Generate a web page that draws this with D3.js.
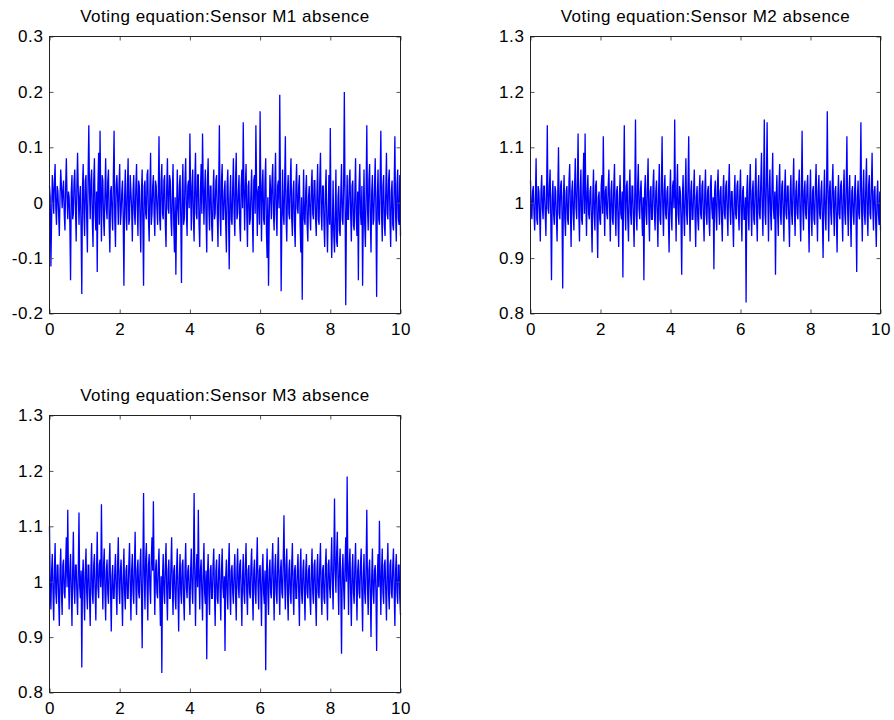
<!DOCTYPE html>
<html>
<head>
<meta charset="utf-8">
<script src="https://cdn.jsdelivr.net/npm/d3@7"></script>
<style>
  html, body { margin: 0; padding: 0; background: #fff; }
  svg { display: block; }
  text { font-family: "Liberation Sans", Arial, Helvetica, sans-serif; fill: #000; }
</style>
</head>
<body>
<svg id="chart" width="894" height="720"></svg>
<script>
// ---------------- data ----------------
const titles = [
  "Voting equation:Sensor M1 absence",
  "Voting equation:Sensor M2 absence",
  "Voting equation:Sensor M3 absence"
];
const xTicks = [0, 2, 4, 6, 8, 10];
const xTickLabels = ["0", "2", "4", "6", "8", "10"];
const yTicks1 = [-0.2, -0.1, 0, 0.1, 0.2, 0.3];
const yTickLabels1 = ["-0.2", "-0.1", "0", "0.1", "0.2", "0.3"];
const yTicks23 = [0.8, 0.9, 1.0, 1.1, 1.2, 1.3];
const yTickLabels23 = ["0.8", "0.9", "1", "1.1", "1.2", "1.3"];
const timeStep = 0.02; // seconds between samples, t = 0 .. 10

const m1Absence = [
  0.03,0.01,-0.115,-0.03,0.05,0.02,-0.02,0.04,0.07,-0.01,-0.04,0.03,0.02,-0.02,-0.06,0.01,0.06,0.03,-0.01,0.02,
  0.04,-0.02,-0.05,0.03,0.08,0.01,-0.03,0.02,0.01,-0.04,-0.14,0.02,0.05,-0.03,-0.02,0.04,0.06,-0.01,-0.07,0.03,
  0.09,0.02,-0.04,0.01,0.03,-0.05,-0.165,0.03,0.07,-0.02,-0.06,0.04,0.05,-0.03,-0.09,0.05,0.14,0.02,-0.03,0.04,
  0.06,-0.03,-0.08,0.04,0.08,-0.02,-0.05,0.02,-0.125,0.03,0.09,-0.04,0.13,0.01,-0.07,0.05,0.04,-0.03,-0.06,0.02,
  0.08,-0.01,-0.03,0.04,0.06,-0.04,-0.09,0.02,0.03,-0.02,-0.05,0.05,0.13,-0.03,-0.08,0.03,0.05,0.01,-0.04,0.03,
  0.07,-0.04,-0.02,0.02,0.04,-0.03,-0.15,0.01,0.06,-0.02,-0.05,0.03,0.08,-0.04,-0.03,0.05,0.02,-0.01,-0.07,0.02,
  0.05,-0.02,-0.04,0.03,0.07,-0.01,-0.06,0.04,0.03,-0.03,-0.09,0.02,0.06,-0.04,-0.15,0.03,0.04,-0.02,-0.03,0.05,
  0.06,-0.03,-0.07,0.02,0.09,-0.04,-0.02,0.03,0.05,-0.02,-0.06,0.04,0.03,-0.01,-0.04,0.02,0.12,-0.03,-0.05,0.04,
  0.07,-0.02,-0.03,0.04,0.05,-0.04,-0.08,0.03,0.08,-0.01,-0.02,0.05,0.04,-0.03,-0.06,0.02,0.07,-0.04,-0.09,0.01,
  -0.13,-0.02,0.06,-0.01,-0.04,0.03,0.05,-0.03,-0.145,0.02,0.07,-0.04,-0.03,0.04,0.08,-0.02,-0.06,0.03,0.04,-0.01,
  0.125,0.02,-0.05,0.03,0.06,-0.03,-0.07,0.04,0.09,-0.02,-0.03,0.05,0.05,-0.04,-0.08,0.02,0.07,-0.02,0.125,0.03,
  -0.04,0.02,0.06,-0.03,-0.09,0.04,0.08,-0.01,-0.05,0.03,0.03,-0.04,-0.07,0.02,0.06,-0.03,-0.02,0.04,0.05,-0.02,
  -0.08,0.03,0.14,-0.02,-0.06,0.04,0.07,-0.03,-0.03,0.02,0.04,-0.04,-0.09,0.03,0.06,-0.02,-0.12,0.01,0.05,-0.03,
  -0.04,0.03,0.08,-0.02,-0.06,0.04,0.09,-0.03,-0.02,0.02,0.05,-0.04,-0.07,0.03,0.06,-0.01,0.145,0.02,-0.05,0.03,
  0.07,-0.02,-0.08,0.03,0.04,-0.04,-0.03,0.02,0.06,-0.03,-0.09,0.04,0.05,-0.02,0.14,0.03,-0.06,0.02,0.03,-0.04,
  0.165,0.02,-0.07,0.03,0.06,-0.03,-0.04,0.04,0.08,-0.05,-0.1,0.01,-0.15,-0.03,0.05,0.02,-0.03,0.04,0.07,-0.02,
  -0.05,0.03,0.09,-0.02,-0.06,0.03,0.04,-0.01,0.195,0.02,-0.16,-0.03,0.06,-0.02,-0.04,0.04,0.12,-0.03,-0.07,0.02,
  0.05,-0.02,-0.03,0.04,0.08,-0.03,-0.06,0.02,0.04,-0.04,-0.08,0.03,0.07,-0.01,-0.02,0.03,0.05,-0.04,-0.09,0.01,
  -0.175,-0.02,0.06,-0.03,-0.04,0.02,0.05,-0.04,-0.07,0.01,0.03,-0.02,-0.05,0.03,0.06,-0.02,-0.03,0.04,0.04,-0.03,
  -0.06,0.02,0.07,-0.03,-0.04,0.04,0.09,-0.02,-0.05,0.03,0.03,-0.04,-0.08,0.02,0.06,-0.03,-0.09,-0.02,0.05,-0.04,
  0.135,-0.03,-0.1,-0.04,0.04,-0.06,-0.09,-0.02,0.06,-0.07,-0.08,0.01,0.03,-0.05,-0.06,0.02,0.07,-0.03,-0.04,0.03,
  0.2,0.01,-0.185,-0.02,0.05,-0.03,-0.03,0.04,0.06,-0.02,-0.07,0.03,0.04,-0.04,-0.05,0.02,0.08,-0.03,-0.06,0.02,
  -0.14,0.03,0.07,-0.02,-0.04,0.03,-0.15,-0.03,0.06,-0.04,-0.08,0.02,0.14,-0.01,-0.05,0.04,0.07,-0.03,-0.09,0.02,
  0.05,-0.04,-0.03,0.03,0.08,-0.02,-0.17,0.01,0.06,-0.03,-0.04,0.04,0.13,-0.02,-0.07,0.03,0.05,-0.04,-0.06,0.02,
  0.09,-0.02,-0.03,0.04,0.06,-0.03,-0.08,0.02,0.04,-0.04,-0.05,0.03,0.12,-0.02,-0.07,0.03,0.06,-0.03,-0.04,0.05,
  -0.06
];

const m2Absence = [
  1.04,0.99,0.97,1.02,1.03,0.98,0.95,1.01,1.08,0.97,0.96,1.03,1.02,0.98,0.93,1.02,1.05,0.99,0.97,1.03,
  1.03,0.98,0.94,1.02,1.14,0.99,0.98,1.03,1.06,0.97,0.86,1.01,1.04,0.98,0.96,1.03,1.02,0.97,0.93,1.02,
  1.10,0.98,0.97,1.03,1.04,0.98,0.845,1.01,1.05,0.97,0.94,1.02,1.03,0.97,0.96,1.04,1.07,0.99,0.92,1.02,
  1.04,0.98,0.95,1.03,1.08,0.99,0.97,1.04,1.125,0.98,0.93,1.02,1.06,0.97,0.96,1.03,1.09,0.98,1.125,1.01,
  0.94,1.02,1.05,0.98,0.97,1.02,1.03,0.97,0.91,1.01,1.06,0.98,0.95,1.03,1.04,0.97,0.90,1.01,1.02,0.97,
  0.96,1.03,1.05,0.98,1.12,1.01,0.94,1.02,1.03,0.98,0.97,1.03,1.06,0.99,0.93,1.02,1.04,0.97,0.96,1.03,
  1.07,0.98,0.94,1.02,1.03,0.97,0.92,1.01,1.05,0.98,0.97,1.02,0.865,1.03,1.14,0.99,0.95,1.03,1.04,0.97,
  0.93,1.02,1.06,0.98,0.96,1.03,1.03,0.97,0.92,1.02,1.15,0.98,0.95,1.03,1.07,0.99,0.97,1.02,1.04,0.98,
  0.94,1.01,0.86,1.02,1.05,0.98,0.96,1.03,1.08,0.98,0.93,1.02,1.03,0.97,0.97,1.03,1.06,0.98,0.95,1.02,
  1.04,0.98,0.92,1.02,1.07,0.97,0.96,1.03,1.12,0.99,0.94,1.02,1.05,0.98,0.97,1.02,1.03,0.97,0.91,1.01,
  1.06,0.98,0.95,1.03,1.04,0.99,1.15,1.01,0.93,1.02,1.07,0.98,0.96,1.03,1.02,0.97,0.87,1.01,1.05,0.98,
  0.94,1.02,1.08,0.98,0.96,1.03,1.12,0.99,0.93,1.02,1.04,0.97,0.97,1.02,1.06,0.98,0.92,1.01,1.03,0.97,
  0.95,1.02,1.05,0.98,0.97,1.03,1.04,0.97,0.93,1.02,1.06,0.98,0.96,1.02,1.03,0.97,0.94,1.03,1.05,0.99,
  0.97,1.01,0.88,1.02,1.04,0.98,0.95,1.03,1.06,0.99,0.96,1.02,1.03,0.97,0.93,1.02,1.05,0.98,0.97,1.03,
  1.04,0.98,0.94,1.03,1.07,0.99,0.96,1.02,1.02,0.97,0.92,1.01,1.05,0.98,0.97,1.03,1.04,0.98,0.95,1.02,
  1.06,0.98,0.93,1.02,1.03,0.97,0.97,1.01,0.82,1.02,1.05,0.98,0.95,1.03,1.07,0.99,0.94,1.02,1.04,0.97,
  0.96,1.03,1.08,0.98,0.93,1.02,1.05,0.98,0.97,1.04,1.09,0.99,0.94,1.03,1.15,0.98,0.96,1.04,1.145,1.01,
  0.93,1.02,1.06,0.98,0.95,1.03,1.09,0.99,0.97,1.02,0.87,1.01,1.05,0.98,0.94,1.03,1.07,0.98,0.96,1.03,
  1.04,0.98,0.93,1.02,1.06,0.98,0.97,1.03,1.03,0.97,0.92,1.02,1.05,0.98,0.96,1.03,1.08,0.99,0.94,1.02,
  1.04,0.98,0.97,1.03,1.06,0.98,0.93,1.02,1.13,0.99,0.95,1.02,1.04,0.98,0.97,1.03,1.05,0.98,0.91,1.01,
  1.06,0.98,0.94,1.02,1.03,0.97,0.96,1.03,1.07,0.99,0.93,1.02,1.05,0.98,0.97,1.02,1.04,0.97,0.90,1.01,
  1.06,0.98,0.95,1.03,1.165,1.01,0.93,1.02,1.04,0.98,0.96,1.03,1.07,0.99,0.94,1.02,1.03,0.97,0.91,1.01,
  1.05,0.98,0.97,1.03,1.04,0.98,0.93,1.02,1.06,0.98,0.96,1.03,1.12,0.99,0.94,1.02,1.05,0.98,0.92,1.02,
  1.03,0.98,0.96,1.02,1.05,0.98,0.875,1.01,1.04,0.98,0.97,1.03,1.145,0.99,0.93,1.02,1.06,0.98,0.96,1.03,
  1.08,0.98,0.94,1.03,1.05,0.98,0.97,1.03,1.09,0.99,0.95,1.02,1.03,0.97,0.92,1.01,1.04,0.98,0.96,1.02,
  0.95
];

const m3Absence = [
  1.10,0.99,0.95,1.02,1.05,0.98,0.93,1.02,1.07,0.98,0.96,1.03,1.03,0.97,0.92,1.02,1.06,0.98,0.94,1.03,
  1.04,0.98,0.97,1.03,1.08,0.99,1.13,1.01,0.95,1.02,1.05,0.98,0.92,1.02,1.09,0.99,0.96,1.03,1.03,0.98,
  0.94,1.02,1.125,0.99,0.97,1.02,0.845,1.01,1.04,0.98,0.93,1.02,1.06,0.98,0.95,1.03,1.03,0.97,0.92,1.02,
  1.07,0.98,0.96,1.03,1.05,0.98,0.93,1.02,1.09,0.99,0.97,1.03,1.04,0.99,1.14,1.01,0.95,1.03,1.06,0.98,
  0.93,1.02,1.04,0.98,0.96,1.03,1.07,0.98,0.91,1.01,1.03,0.97,0.97,1.02,1.05,0.98,0.94,1.03,1.08,0.99,
  0.96,1.02,1.04,0.98,0.92,1.01,1.06,0.98,0.95,1.02,1.03,0.97,0.97,1.03,1.07,0.99,0.93,1.02,1.05,0.98,
  0.96,1.03,1.09,0.99,0.94,1.02,1.04,0.98,0.97,1.03,1.06,0.98,0.88,1.02,1.16,1.01,0.95,1.04,1.07,0.99,
  0.93,1.03,1.05,0.99,0.96,1.04,1.08,1.02,1.145,1.01,0.94,1.02,1.04,0.98,0.97,1.03,1.06,0.98,0.92,1.01,
  0.835,1.01,1.05,0.98,0.96,1.03,1.07,0.98,0.93,1.02,1.04,0.97,0.97,1.03,1.08,0.99,0.94,1.02,1.03,0.97,
  0.95,1.02,1.06,0.98,0.91,1.01,1.05,0.98,0.96,1.03,1.04,0.97,0.93,1.02,1.07,0.99,0.97,1.02,1.03,0.98,
  0.94,1.02,1.06,0.99,0.96,1.03,1.16,1.01,0.92,1.02,1.05,0.99,1.13,1.01,0.95,1.02,1.04,0.98,0.93,1.02,
  1.07,0.98,0.96,1.02,0.86,1.01,1.05,0.98,0.94,1.02,1.03,0.97,0.97,1.03,1.06,0.98,0.92,1.02,1.04,0.97,
  0.96,1.02,1.05,0.98,0.93,1.02,1.06,0.99,0.97,1.01,0.875,1.01,1.04,0.98,0.95,1.03,1.07,0.98,0.94,1.02,
  1.03,0.98,0.96,1.02,1.05,0.98,0.93,1.02,1.06,0.99,0.97,1.03,1.04,0.98,0.92,1.01,1.05,0.98,0.96,1.03,
  1.07,0.98,0.94,1.02,1.03,0.98,0.97,1.03,1.06,0.98,0.93,1.02,1.04,0.98,0.96,1.03,1.08,0.99,0.95,1.02,
  1.03,0.98,0.92,1.02,1.05,0.98,0.96,1.02,0.84,1.01,1.06,0.98,0.94,1.02,1.04,0.98,0.97,1.03,1.07,0.99,
  0.93,1.02,1.05,0.98,0.96,1.03,1.08,0.99,0.94,1.02,1.04,0.98,0.97,1.04,1.12,1.00,0.95,1.03,1.06,0.98,
  0.93,1.02,1.04,0.98,0.96,1.03,1.07,0.98,0.94,1.02,1.03,0.97,0.97,1.02,1.05,0.98,0.92,1.02,1.06,0.98,
  0.96,1.02,1.04,0.98,0.93,1.02,1.05,0.98,0.97,1.02,1.03,0.97,0.94,1.02,1.06,0.98,0.96,1.03,1.04,0.97,
  0.92,1.02,1.05,0.98,0.97,1.03,1.07,0.98,0.94,1.02,1.03,0.97,0.96,1.03,1.06,0.98,0.93,1.03,1.04,0.99,
  0.97,1.03,1.08,1.00,0.95,1.04,1.15,1.02,0.98,1.05,1.09,1.00,0.94,1.03,1.06,0.98,0.87,1.02,1.05,0.99,
  0.95,1.03,1.08,1.00,1.19,1.02,0.94,1.03,1.06,0.98,0.92,1.02,1.05,0.98,0.96,1.03,1.07,0.99,0.93,1.02,
  1.04,0.98,0.97,1.03,1.06,0.98,0.91,1.01,1.05,0.98,0.96,1.03,1.13,0.99,0.94,1.02,1.04,0.98,0.90,1.01,
  1.06,0.98,0.96,1.02,1.03,0.98,0.875,1.01,1.05,0.99,1.11,1.01,0.94,1.02,1.06,0.98,0.96,1.03,1.04,0.98,
  0.93,1.02,1.07,0.98,0.95,1.03,1.04,0.98,0.97,1.03,1.06,0.98,0.92,1.02,1.05,0.98,0.96,1.03,1.03,0.97,
  0.94
];

// ---------------- drawing ----------------
const svg = d3.select("#chart");

const panels = [
  { title: titles[0], values: m1Absence, yTicks: yTicks1, yLabels: yTickLabels1, domain: [-0.2, 0.3],
    left: 49.5, right: 400.5, top: 36.5, bottom: 313.5 },
  { title: titles[1], values: m2Absence, yTicks: yTicks23, yLabels: yTickLabels23, domain: [0.8, 1.3],
    left: 530.5, right: 880.5, top: 36.5, bottom: 313.5 },
  { title: titles[2], values: m3Absence, yTicks: yTicks23, yLabels: yTickLabels23, domain: [0.8, 1.3],
    left: 49.5, right: 400.5, top: 415.5, bottom: 692.5 }
];

const FONT = 17;
const TICK = 4;

panels.forEach(p => {
  const x = d3.scaleLinear().domain([0, 10]).range([p.left, p.right]);
  const y = d3.scaleLinear().domain(p.domain).range([p.bottom, p.top]);
  const g = svg.append("g");

  // data line
  const line = d3.line()
    .x((d, i) => x(i * timeStep))
    .y(d => y(d));
  g.append("path")
    .datum(p.values)
    .attr("fill", "none")
    .attr("stroke", "#0000ff")
    .attr("stroke-width", 1.3)
    .attr("d", line);

  // axes: ticks inside on all four sides
  const fmtX = d => xTickLabels[xTicks.indexOf(d)];
  const fmtY = d => p.yLabels[p.yTicks.indexOf(d)];

  const ax = g.append("g").attr("transform", `translate(0,${p.bottom})`)
    .call(d3.axisBottom(x).tickValues(xTicks).tickFormat(fmtX).tickSizeInner(-TICK).tickSizeOuter(0).tickPadding(9));
  const ay = g.append("g").attr("transform", `translate(${p.left},0)`)
    .call(d3.axisLeft(y).tickValues(p.yTicks).tickFormat(fmtY).tickSizeInner(-TICK).tickSizeOuter(0).tickPadding(6));
  const at = g.append("g").attr("transform", `translate(0,${p.top})`)
    .call(d3.axisTop(x).tickValues(xTicks).tickFormat("").tickSizeInner(-TICK).tickSizeOuter(0));
  const ar = g.append("g").attr("transform", `translate(${p.right},0)`)
    .call(d3.axisRight(y).tickValues(p.yTicks).tickFormat("").tickSizeInner(-TICK).tickSizeOuter(0));

  [ax, ay, at, ar].forEach(a => {
    a.select(".domain").remove();
    a.selectAll(".tick line").attr("stroke", "#555").attr("stroke-width", 1);
    a.selectAll(".tick text")
      .attr("font-size", FONT)
      .attr("font-family", "'Liberation Sans', Arial, sans-serif")
      .attr("letter-spacing", 0.6)
      .attr("fill", "#000");
  });
  ax.selectAll(".tick text").attr("dy", "0.71em");

  // box
  g.append("rect")
    .attr("x", p.left).attr("y", p.top)
    .attr("width", p.right - p.left).attr("height", p.bottom - p.top)
    .attr("fill", "none").attr("stroke", "#222").attr("stroke-width", 1);

  // title
  g.append("text")
    .attr("x", (p.left + p.right) / 2)
    .attr("y", p.top - 15)
    .attr("text-anchor", "middle")
    .attr("font-size", FONT)
    .attr("letter-spacing", 0.5)
    .text(p.title);
});
</script>
</body>
</html>
